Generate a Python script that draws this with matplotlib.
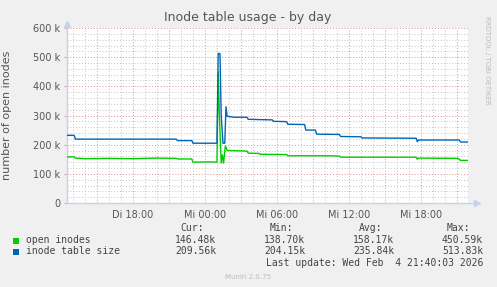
import matplotlib
matplotlib.use("Agg")
import matplotlib.pyplot as plt
from matplotlib.ticker import FixedLocator

# ---- data (hours since Tuesday 00:00, values in thousands) ----
size_times = [12.5, 13.1, 13.2, 21.6, 21.7, 22.9, 23.0, 25.0, 25.1, 25.25, 25.35, 25.5, 25.65,
              25.75, 25.85, 26.5, 27.5, 27.6, 28.5, 29.6, 29.7, 30.8, 30.9, 32.3, 32.4,
              33.2, 33.3, 35.2, 35.3, 37.0, 37.1, 41.6, 41.7, 41.8, 45.2, 45.3, 45.9]
size_vals = [232, 232, 219, 219, 214, 214, 205, 205, 513, 512, 300, 205, 205,
             330, 297, 294, 294, 287, 286, 285, 280, 279, 270, 269, 250,
             250, 236, 235, 228, 227, 223, 222, 210, 216, 216, 209, 209]

open_times = [12.5, 13.1, 13.2, 14.0, 16.0, 18.0, 20.0, 21.6, 21.7, 22.9, 23.0, 24.5, 25.0,
              25.1, 25.2, 25.35, 25.45, 25.55, 25.7, 25.85, 27.5, 27.6, 28.5, 28.6,
              30.8, 30.9, 34.0, 35.2, 35.3, 41.6, 41.7, 41.8, 45.1, 45.3, 45.9]
open_vals = [158, 158, 154, 152, 153, 152, 154, 153, 151, 151, 140, 141, 140,
             450, 300, 137, 165, 137, 196, 180, 178, 171, 170, 167,
             166, 162, 162, 161, 157, 157, 150, 154, 153, 146, 146]

series_names = ["open inodes", "inode table size"]
series_colors = ["#00CC00", "#0066B3"]
cur_vals = ["146.48k", "209.56k"]
min_vals = ["138.70k", "204.15k"]
avg_vals = ["158.17k", "235.84k"]
max_vals = ["450.59k", "513.83k"]

xtick_pos = [18, 24, 30, 36, 42]
xtick_labels = ["Di 18:00", "Mi 00:00", "Mi 06:00", "Mi 12:00", "Mi 18:00"]
ytick_pos = [0, 100, 200, 300, 400, 500, 600]
ytick_labels = ["0", "100 k", "200 k", "300 k", "400 k", "500 k", "600 k"]

W, H = 497, 287
fig = plt.figure(figsize=(W / 100, H / 100), dpi=100, facecolor="#F0F0F0")
ax = fig.add_axes([67 / W, 1 - 203 / H, (468 - 67) / W, (203 - 28) / H])
ax.set_facecolor("white")
ax.set_xlim(12.5, 45.92)
ax.set_ylim(0, 600)

# grids
for x in range(13, 46):
    if x % 3 == 0:
        ax.axvline(x, color="#E09090", lw=0.7, ls=(0, (1, 2)), zorder=1)
    else:
        ax.axvline(x, color="#C4C4C4", lw=0.7, ls=(0, (1, 2)), zorder=1)
for y in range(20, 601, 20):
    if y % 100 == 0:
        ax.axhline(y, color="#E09090", lw=0.7, ls=(0, (1, 2)), zorder=1)
    else:
        ax.axhline(y, color="#C4C4C4", lw=0.7, ls=(0, (1, 2)), zorder=1)

ax.plot(open_times, open_vals, color=series_colors[0], lw=1.0, zorder=3)
ax.plot(size_times, size_vals, color=series_colors[1], lw=1.0, zorder=4)

for s in ["top", "right"]:
    ax.spines[s].set_visible(False)
for s in ["left", "bottom"]:
    ax.spines[s].set_color("#C8D0EC")
    ax.spines[s].set_linewidth(1.0)
ax.spines["left"].set_bounds(0, 612)
ax.spines["bottom"].set_bounds(12.5, 46.6)
ax.plot([12.5], [615], marker="^", color="#C8D0EC", ms=5, clip_on=False, zorder=5)
ax.plot([46.7], [0], marker=">", color="#C8D0EC", ms=5, clip_on=False, zorder=5)

ax.xaxis.set_major_locator(FixedLocator(xtick_pos))
ax.set_xticklabels(xtick_labels)
ax.yaxis.set_major_locator(FixedLocator(ytick_pos))
ax.set_yticklabels(ytick_labels)
ax.tick_params(axis="both", length=2, color="#BBBBBB", labelsize=7, labelcolor="#555555", pad=3)
ax.tick_params(axis="x", length=0, pad=5)

ax.set_ylabel("number of open inodes", fontsize=8, color="#555555")
ax.yaxis.set_label_coords(-55 / (468 - 67), 0.5)

fig.text(248 / W, 1 - 18 / H, "Inode table usage - by day", ha="center", va="center",
         fontsize=9, color="#555555")
fig.text(487 / W, 1 - 60 / H, "RRDTOOL / TOBI OETIKER", rotation=270, ha="center", va="center",
         fontsize=5, color="#BBBBBB")

mono = "DejaVu Sans Mono"
fs = 7.0
tc = "#444444"
hdr_y = 1 - 228 / H
fig.text(204 / W, hdr_y, "Cur:", ha="right", va="center", family=mono, fontsize=fs, color=tc)
fig.text(293 / W, hdr_y, "Min:", ha="right", va="center", family=mono, fontsize=fs, color=tc)
fig.text(382 / W, hdr_y, "Avg:", ha="right", va="center", family=mono, fontsize=fs, color=tc)
fig.text(470 / W, hdr_y, "Max:", ha="right", va="center", family=mono, fontsize=fs, color=tc)
for i, (name, col) in enumerate(zip(series_names, series_colors)):
    yy = 1 - (240 + 11.5 * i) / H
    fig.patches.append(plt.Rectangle((13 / W, yy - 3.5 / H), 6 / W, 6 / H, transform=fig.transFigure,
                                     facecolor=col, edgecolor="none"))
    fig.text(26 / W, yy, name, ha="left", va="center", family=mono, fontsize=fs, color=tc)
    fig.text(216 / W, yy, cur_vals[i], ha="right", va="center", family=mono, fontsize=fs, color=tc)
    fig.text(305 / W, yy, min_vals[i], ha="right", va="center", family=mono, fontsize=fs, color=tc)
    fig.text(394 / W, yy, avg_vals[i], ha="right", va="center", family=mono, fontsize=fs, color=tc)
    fig.text(483 / W, yy, max_vals[i], ha="right", va="center", family=mono, fontsize=fs, color=tc)
fig.text(483 / W, 1 - 263 / H, "Last update: Wed Feb  4 21:40:03 2026", ha="right", va="center",
         family=mono, fontsize=fs, color=tc)
fig.text(248 / W, 1 - 277 / H, "Munin 2.0.75", ha="center", va="center", fontsize=5, color="#BBBBBB")

fig.savefig("out.png", dpi=100, facecolor=fig.get_facecolor())
